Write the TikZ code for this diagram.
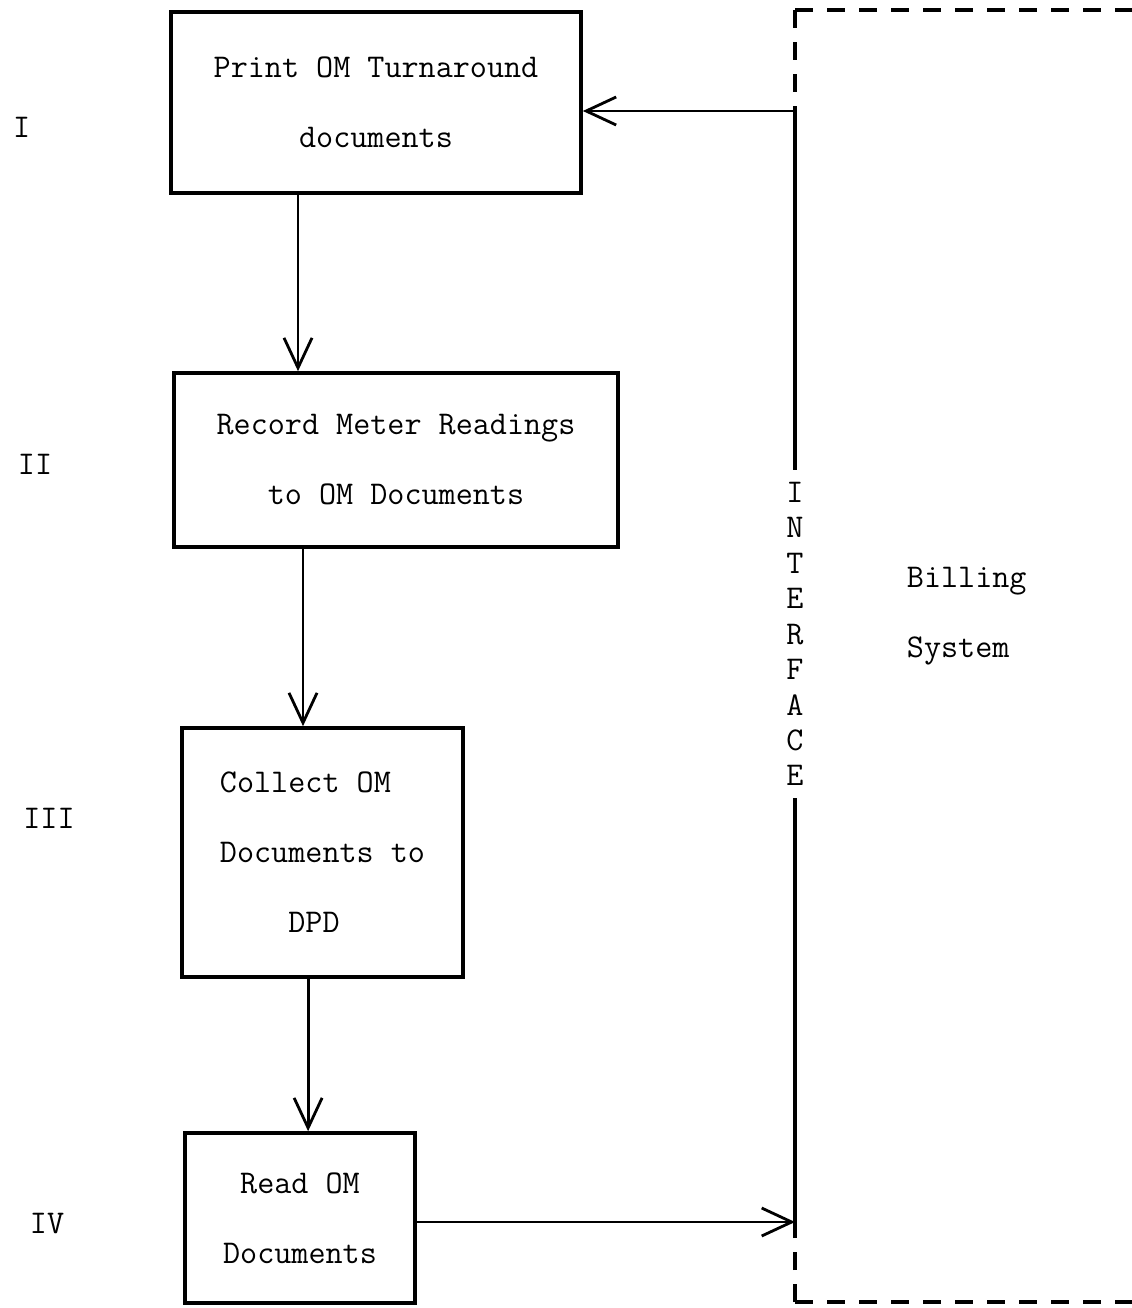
\documentclass[tikz,border=0pt]{standalone}
\usepackage{tikz}
\usetikzlibrary{arrows.meta,positioning,calc}

\newcommand{\twfont}{\fontsize{23.6}{49.8}\selectfont\ttfamily}
\newcommand{\twletters}{\fontsize{23.6}{25.2}\selectfont\ttfamily}

\begin{document}
\begin{tikzpicture}[x=1cm,y=1cm]
  \tikzset{
    stage/.style={draw=black, line width=2.6pt, inner sep=0pt, align=center, font=\twfont},
    flow/.style={-{Straight Barb[length=0.75cm,width=0.7cm]}, black, line width=2pt},
    link/.style={black, line width=2.2pt},
    frame/.style={black, line width=2.8pt, dash pattern=on 0.45cm off 0.35cm},
    roman/.style={font=\twfont}
  }
  \useasboundingbox (0,0) rectangle (28.275,-32.7);

  % X positions
  \def\xIF{19.875}
  \def\xFR{28.3}

  % Stages
  \node[stage, minimum width=10.25cm, minimum height=4.525cm] (print) at (9.4,-2.5625) {Print OM Turnaround\\documents};
  \node[stage, minimum width=11.1cm, minimum height=4.35cm] (record) at (9.9,-11.5) {Record Meter Readings\\to OM Documents};
  \node[stage, minimum width=7.025cm, minimum height=6.225cm, align=left] (collect) at (8.0625,-21.3125) {Collect OM\\Documents to\\~~~~DPD};
  \node[stage, minimum width=5.75cm, minimum height=4.25cm] (read) at (7.5,-30.45) {Read OM\\Documents};

  % Stage numbers
  \node[roman] (numI) at (0.54,-3.18) {I};
  \node[roman] (numII) at (0.875,-11.6) {II};
  \node[roman] (numIII) at (1.225,-20.45) {III};
  \node[roman] (numIV) at (1.175,-30.575) {IV};

  % Flow between stages
  \draw[flow] ([xshift=-1.95cm]print.south) -- ([xshift=-1.95cm]print.south |- record.north);
  \draw[flow] ([xshift=-2.325cm]record.south) -- ([xshift=-2.325cm]record.south |- collect.north);
  \draw[flow] ([xshift=-0.36cm]collect.south) -- ([xshift=-0.36cm]collect.south |- read.north);

  % Interface
  \coordinate (ifTop) at (\xIF,-2.775);
  \coordinate (ifBot) at (\xIF,-30.55);
  \node[font=\twletters, align=center, inner xsep=0pt, inner ysep=0.3cm] (iface) at (\xIF,-15.85) {I\\N\\T\\E\\R\\F\\A\\C\\E};
  \draw[link] (ifTop) -- (iface.north);
  \draw[link] (iface.south) -- (ifBot);
  \draw[flow] (ifTop) -- (ifTop -| print.east);
  \draw[flow] (read.east |- ifBot) -- (ifBot);

  % Billing system frame
  \coordinate (frTop) at (\xIF,-0.25);
  \coordinate (frBot) at (\xIF,-32.55);
  \draw[frame] (frTop) -- (\xFR,-0.25);
  \draw[frame] (frTop) -- (ifTop);
  \draw[frame] (frBot) -- (\xFR,-32.55);
  \draw[frame] (frBot) -- (ifBot);
  \node[roman, align=left, anchor=west] (billing) at (22.55,-15.4) {Billing\\System};

\end{tikzpicture}
\end{document}
